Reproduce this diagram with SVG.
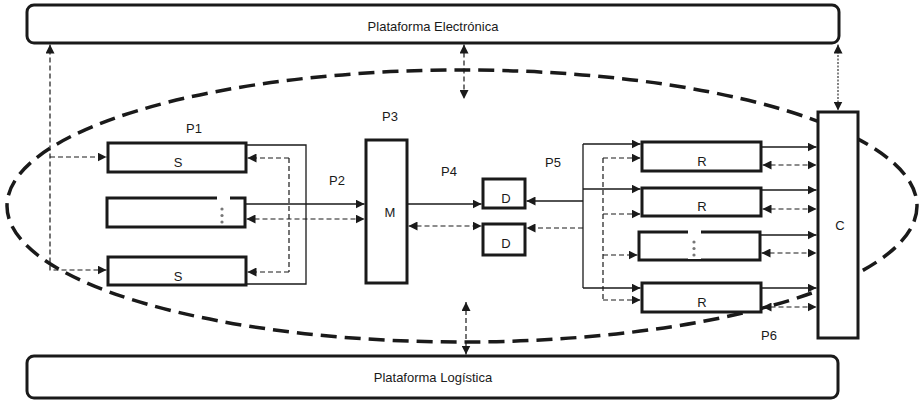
<svg xmlns="http://www.w3.org/2000/svg" width="919" height="401" viewBox="0 0 919 401">
<style>
.box{fill:#fff;stroke:#1a1a1a;stroke-width:3}
.bar{fill:#fff;stroke:#1a1a1a;stroke-width:3}
.t{font-family:"Liberation Sans",Arial,sans-serif;font-size:13px;fill:#1a1a1a;text-anchor:middle}
.sl{fill:none;stroke:#1a1a1a;stroke-width:1.3}
.dl{fill:none;stroke:#1a1a1a;stroke-width:1.2;stroke-dasharray:5,3}
.dt{fill:none;stroke:#333;stroke-width:1.2;stroke-dasharray:2,1.5}
.dot{fill:#777}
</style>
<defs>
<marker id="a" viewBox="0 0 10 10" refX="10" refY="5" markerWidth="9" markerHeight="9" markerUnits="userSpaceOnUse" orient="auto-start-reverse">
<path d="M0,0 L10,5 L0,10 z" fill="#1a1a1a"/>
</marker>
</defs>
<ellipse id="boundary" cx="462" cy="206" rx="455" ry="136" fill="none" stroke="#1a1a1a" stroke-width="3.5" stroke-dasharray="16,8"/>
<g id="plataforma-electronica"><rect class="bar" x="27" y="5" width="812" height="38" rx="7"/><text class="t" x="433" y="31">Plataforma Electrónica</text></g>
<g id="plataforma-logistica"><rect class="bar" x="27" y="356" width="811" height="42" rx="7"/><text class="t" x="433" y="382">Plataforma Logística</text></g>
<g id="s1"><rect class="box" x="108" y="143" width="138" height="29"/><text class="t" x="178" y="167">S</text></g>
<g id="s-mid"><rect class="box" x="107" y="198" width="138" height="29"/><rect x="217" y="196" width="13" height="29" fill="#fff"/><circle class="dot" cx="222" cy="209" r="1.6"/><circle class="dot" cx="222" cy="215.5" r="1.6"/><circle class="dot" cx="222" cy="222" r="1.6"/></g>
<g id="s2"><rect class="box" x="108" y="257" width="138" height="28"/><text class="t" x="178" y="281">S</text></g>
<g id="m"><rect class="box" x="366" y="140" width="41" height="143"/><text class="t" x="390" y="217">M</text></g>
<g id="d1"><rect class="box" x="483" y="179" width="42" height="29"/><text class="t" x="506" y="203">D</text></g>
<g id="d2"><rect class="box" x="483" y="224" width="42" height="31"/><text class="t" x="506" y="248">D</text></g>
<g id="r1"><rect class="box" x="642" y="142" width="119" height="29"/><text class="t" x="702" y="166">R</text></g>
<g id="r2"><rect class="box" x="642" y="188" width="119" height="28"/><text class="t" x="702" y="211">R</text></g>
<g id="r-mid"><rect class="box" x="639" y="232" width="121" height="28"/><rect x="688" y="230" width="13" height="29" fill="#fff"/><circle class="dot" cx="694" cy="242" r="1.6"/><circle class="dot" cx="694" cy="248.5" r="1.6"/><circle class="dot" cx="694" cy="255" r="1.6"/></g>
<g id="r4"><rect class="box" x="642" y="283" width="119" height="29"/><text class="t" x="702" y="307">R</text></g>
<g id="c"><rect class="box" x="818" y="112" width="40" height="226"/><text class="t" x="840" y="230">C</text></g>
<g id="labels">
<text class="t" x="194" y="133">P1</text>
<text class="t" x="337" y="185">P2</text>
<text class="t" x="390" y="121">P3</text>
<text class="t" x="449" y="176">P4</text>
<text class="t" x="553" y="167">P5</text>
<text class="t" x="769" y="340">P6</text>
</g>
<g id="connectors">
<path class="dl" d="M106.5,270 H50 V44.5" marker-start="url(#a)" marker-end="url(#a)"/>
<path class="dl" d="M50,157 H106.5" marker-end="url(#a)"/>
<path class="dl" d="M289,158 V272"/>
<path class="dl" d="M289,158 H247.5" marker-end="url(#a)"/>
<path class="dl" d="M289,272 H247.5" marker-end="url(#a)"/>
<path class="dl" d="M246.5,219 H364.5" marker-start="url(#a)" marker-end="url(#a)"/>
<path class="sl" d="M246,145 H306 V284 H246"/>
<path class="sl" d="M245,204 H364.5" marker-end="url(#a)"/>
<path class="sl" d="M407,204 H481.5" marker-end="url(#a)"/>
<path class="dl" d="M408.5,226 H481.5" marker-start="url(#a)" marker-end="url(#a)"/>
<path class="sl" d="M583,201 H526.5" marker-end="url(#a)"/>
<path class="dl" d="M583,228 H526.5" marker-end="url(#a)"/>
<path class="sl" d="M583,144 V288"/>
<path class="sl" d="M583,144 H640.5" marker-end="url(#a)"/>
<path class="sl" d="M583,189 H640.5" marker-end="url(#a)"/>
<path class="sl" d="M583,288 H640.5" marker-end="url(#a)"/>
<path class="dl" d="M603,158 V300"/>
<path class="dl" d="M603,158 H640.5" marker-end="url(#a)"/>
<path class="dl" d="M603,214 H640.5" marker-end="url(#a)"/>
<path class="dl" d="M603,255 H637.5" marker-end="url(#a)"/>
<path class="dl" d="M603,300 H640.5" marker-end="url(#a)"/>
<path class="sl" d="M761,147 H816.5" marker-end="url(#a)"/>
<path class="dl" d="M762.5,165 H816.5" marker-start="url(#a)" marker-end="url(#a)"/>
<path class="sl" d="M761,190 H816.5" marker-end="url(#a)"/>
<path class="dl" d="M762.5,209 H816.5" marker-start="url(#a)" marker-end="url(#a)"/>
<path class="sl" d="M760,235 H816.5" marker-end="url(#a)"/>
<path class="dl" d="M761.5,253 H816.5" marker-start="url(#a)" marker-end="url(#a)"/>
<path class="sl" d="M761,288 H816.5" marker-end="url(#a)"/>
<path class="dl" d="M762.5,307 H816.5" marker-start="url(#a)" marker-end="url(#a)"/>
<path class="dl" d="M464,44.5 V99" marker-start="url(#a)" marker-end="url(#a)"/>
<path class="dt" d="M838,44.5 V110.5" marker-start="url(#a)" marker-end="url(#a)"/>
<path class="dl" d="M466,302 V354.5" marker-start="url(#a)" marker-end="url(#a)"/>
</g>
</svg>
